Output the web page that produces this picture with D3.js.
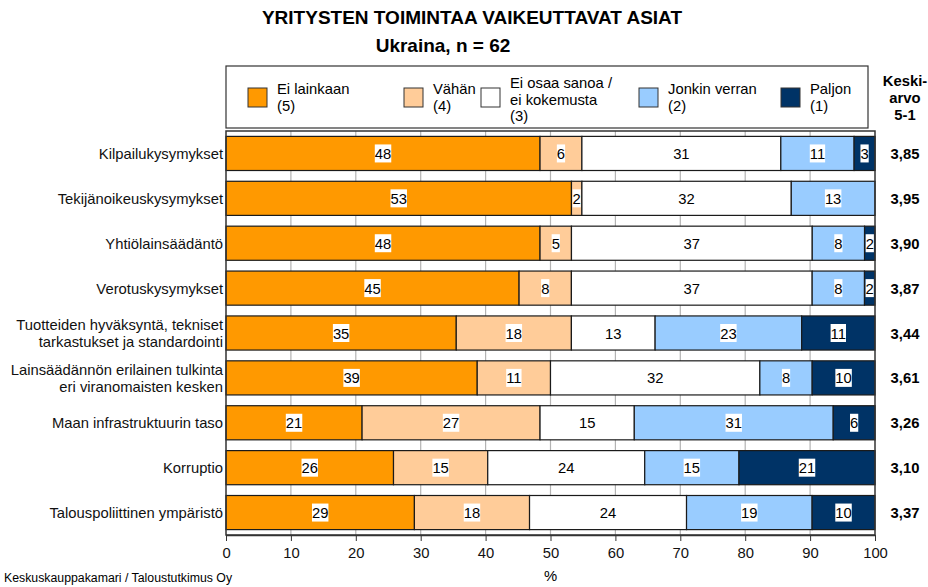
<!DOCTYPE html>
<html>
<head>
<meta charset="utf-8">
<script src="https://cdn.jsdelivr.net/npm/d3@7"></script>
<style>
  body { margin: 0; background: #fff; }
  svg { font-family: "Liberation Sans", Arial, sans-serif; }
</style>
</head>
<body>
<svg id="chart" width="928" height="587"></svg>
<script>
// categories (label lines)
var categories = [
    ["Kilpailukysymykset"],
    ["Tekijänoikeuskysymykset"],
    ["Yhtiölainsäädäntö"],
    ["Verotuskysymykset"],
    ["Tuotteiden hyväksyntä, tekniset", "tarkastukset ja standardointi"],
    ["Lainsäädännön erilainen tulkinta", "eri viranomaisten kesken"],
    ["Maan infrastruktuurin taso"],
    ["Korruptio"],
    ["Talouspoliittinen ympäristö"]
];

// percentages per answer (n = 62)
var eiLainkaan    = [48.39, 53.23, 48.39, 45.16, 35.48, 38.71, 20.97, 25.81, 29.03];
var vahan         = [6.45, 1.61, 4.84, 8.06, 17.74, 11.29, 27.42, 14.52, 17.74];
var eiOsaa        = [30.65, 32.26, 37.10, 37.10, 12.90, 32.26, 14.52, 24.19, 24.19];
var jonkinVerran  = [11.29, 12.90, 8.06, 8.06, 22.58, 8.06, 30.65, 14.52, 19.35];
var paljon        = [3.23, 0, 1.61, 1.61, 11.29, 9.68, 6.45, 20.97, 9.68];

var keskiarvo = ["3,85", "3,95", "3,90", "3,87", "3,44", "3,61", "3,26", "3,10", "3,37"];

var seriesNames = [
    ["Ei lainkaan", "(5)"],
    ["Vähän", "(4)"],
    ["Ei osaa sanoa /", "ei kokemusta", "(3)"],
    ["Jonkin verran", "(2)"],
    ["Paljon", "(1)"]
];
var xTicks = [0, 10, 20, 30, 40, 50, 60, 70, 80, 90, 100];

var colors = ["#ff9900", "#ffcc99", "#ffffff", "#99ccff", "#003366"];

var margin = { top: 131, left: 226, right: 53, bottom: 52 };
var width = 928, height = 587;
var fs = 14.8;

var svg = d3.select("#chart");

var series = [eiLainkaan, vahan, eiOsaa, jonkinVerran, paljon];
var rows = categories.map(function (c, i) {
    var obj = { i: i };
    series.forEach(function (s, k) { obj["s" + k] = s[i]; });
    return obj;
});
var keys = series.map(function (s, k) { return "s" + k; });
var stacked = d3.stack().keys(keys)(rows);

var x = d3.scaleLinear()
    .domain([0, 100])
    .range([margin.left, width - margin.right]);
var y = d3.scaleBand()
    .domain(d3.range(categories.length))
    .range([margin.top, height - margin.bottom])
    .paddingInner(0.24)
    .paddingOuter(0.12);

// titles
svg.append("text")
    .attr("x", 472).attr("y", 24)
    .attr("text-anchor", "middle")
    .attr("font-weight", "bold").attr("font-size", 19)
    .text("YRITYSTEN TOIMINTAA VAIKEUTTAVAT ASIAT");
svg.append("text")
    .attr("x", 443).attr("y", 52)
    .attr("text-anchor", "middle")
    .attr("font-weight", "bold").attr("font-size", 19)
    .text("Ukraina, n = 62");

// legend
svg.append("rect")
    .attr("x", 226).attr("y", 66).attr("width", 642).attr("height", 62)
    .attr("fill", "#fff").attr("stroke", "#333").attr("stroke-width", 1.2);
var legendX = [248, 404, 481, 639, 781];
var legend = svg.append("g").selectAll("g")
    .data(seriesNames).enter().append("g")
    .attr("transform", function (d, i) { return "translate(" + legendX[i] + ",0)"; });
legend.append("rect")
    .attr("x", 0).attr("y", 88).attr("width", 19).attr("height", 19)
    .attr("fill", function (d, i) { return colors[i]; })
    .attr("stroke", "#333").attr("stroke-width", 1);
legend.append("text")
    .attr("font-size", fs)
    .selectAll("tspan")
    .data(function (d) {
        return d.map(function (t, j) { return { t: t, j: j, n: d.length }; });
    })
    .enter().append("tspan")
    .attr("x", 29)
    .attr("y", function (d) { return (d.n === 3 ? 88 : 94) + d.j * 16.5; })
    .text(function (d) { return d.t; });

// keskiarvo header
svg.append("text")
    .attr("font-weight", "bold").attr("font-size", fs)
    .attr("text-anchor", "middle")
    .selectAll("tspan")
    .data(["Keski-", "arvo", "5-1"]).enter().append("tspan")
    .attr("x", 905)
    .attr("y", function (d, i) { return 86 + i * 17; })
    .text(function (d) { return d; });

// gridlines
svg.append("g").selectAll("line")
    .data(xTicks.slice(1, -1)).enter().append("line")
    .attr("x1", x).attr("x2", x)
    .attr("y1", margin.top).attr("y2", height - margin.bottom)
    .attr("stroke", "#b3b3b3").attr("stroke-width", 1.2);

// bars
var layers = svg.append("g").selectAll("g")
    .data(stacked).enter().append("g")
    .attr("fill", function (d, k) { return colors[k]; });
layers.selectAll("rect")
    .data(function (d) { return d.filter(function (p) { return p[1] - p[0] > 0; }); })
    .enter().append("rect")
    .attr("x", function (d) { return x(d[0]); })
    .attr("width", function (d) { return x(d[1]) - x(d[0]); })
    .attr("y", function (d) { return y(d.data.i); })
    .attr("height", y.bandwidth())
    .attr("stroke", "#1a1a1a").attr("stroke-width", 1.2);

// value labels with white boxes
var fmt = d3.format(".0f");
layers.each(function (layer, k) {
    layer.forEach(function (p) {
        var v = p[1] - p[0];
        if (v <= 0) return;
        var cx = (x(p[0]) + x(p[1])) / 2;
        var cy = y(p.data.i) + y.bandwidth() / 2;
        var lbl = svg.append("g");
        var txt = lbl.append("text")
            .attr("x", cx).attr("y", cy + 5.5)
            .attr("text-anchor", "middle")
            .attr("font-size", fs).attr("fill", "#000")
            .text(fmt(v));
        var bb = txt.node().getBBox();
        lbl.insert("rect", "text")
            .attr("x", bb.x).attr("y", cy - 9)
            .attr("width", bb.width).attr("height", 18)
            .attr("fill", "#fff");
    });
});

// frame
svg.append("rect")
    .attr("x", margin.left).attr("y", margin.top)
    .attr("width", x(100) - x(0)).attr("height", height - margin.bottom - margin.top)
    .attr("fill", "none").attr("stroke", "#333").attr("stroke-width", 1.5);

// category labels
svg.append("g").selectAll("text")
    .data(categories).enter().append("text")
    .attr("font-size", fs).attr("text-anchor", "end").attr("fill", "#111")
    .each(function (d, i) {
        var cy = y(i) + y.bandwidth() / 2;
        var t = d3.select(this);
        d.forEach(function (line, j) {
            t.append("tspan")
                .attr("x", 223)
                .attr("y", cy + 5.5 + (j - (d.length - 1) / 2) * 17)
                .text(line);
        });
    });

// keskiarvo values
svg.append("g").selectAll("text")
    .data(keskiarvo).enter().append("text")
    .attr("x", 905)
    .attr("y", function (d, i) { return y(i) + y.bandwidth() / 2 + 5.5; })
    .attr("text-anchor", "middle")
    .attr("font-weight", "bold").attr("font-size", fs)
    .text(function (d) { return d; });

// x axis
var axis = svg.append("g")
    .attr("transform", "translate(0," + (height - margin.bottom) + ")")
    .call(d3.axisBottom(x).tickValues(xTicks).tickSize(6).tickSizeOuter(0));
axis.select(".domain").attr("stroke", "#333").attr("stroke-width", 1.5);
axis.selectAll(".tick line").attr("stroke", "#333");
axis.selectAll(".tick text")
    .attr("font-size", fs).attr("font-family", "Liberation Sans, Arial, sans-serif")
    .attr("fill", "#111").attr("y", 12);

svg.append("text")
    .attr("x", x(50)).attr("y", 581)
    .attr("text-anchor", "middle").attr("font-size", fs)
    .text("%");

svg.append("text")
    .attr("x", 4).attr("y", 582)
    .attr("font-size", 12.3)
    .text("Keskuskauppakamari / Taloustutkimus Oy");
</script>
</body>
</html>
